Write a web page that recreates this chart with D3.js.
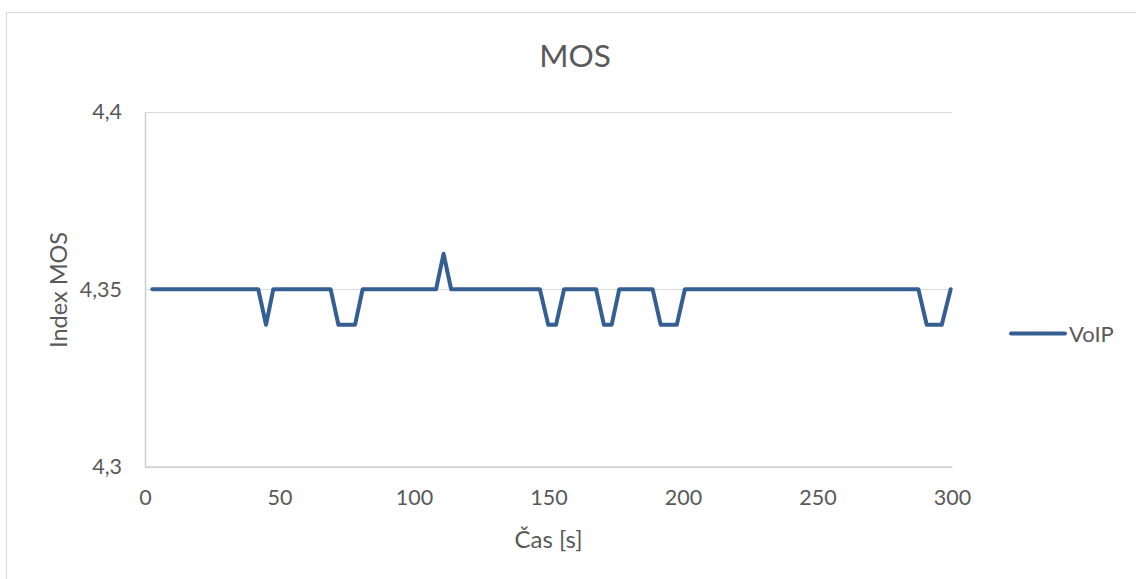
<!DOCTYPE html>
<html>
<head>
<meta charset="utf-8">
<script src="https://cdn.jsdelivr.net/npm/d3@7"></script>
<style>
  body { margin: 0; background: #fff; }
  svg text { font-family: Lato, "Open Sans", sans-serif; fill: #595959; }
</style>
</head>
<body>
<svg id="chart" width="1136" height="579"></svg>
<script>
// MOS samples of the VoIP call over time (only where the value changes)
const timeSec = [2.7, 42.1, 45.0, 47.7, 69.0, 71.9, 78.1, 80.9, 108.2, 111.0, 113.8,
                 146.8, 149.9, 152.8, 155.8, 167.7, 170.6, 173.5, 176.3, 188.7, 191.7,
                 197.7, 200.7, 287.5, 290.6, 296.2, 299.5];
const mosVoip = [4.35, 4.35, 4.34, 4.35, 4.35, 4.34, 4.34, 4.35, 4.35, 4.36, 4.35,
                 4.35, 4.34, 4.34, 4.35, 4.35, 4.34, 4.34, 4.35, 4.35, 4.34,
                 4.34, 4.35, 4.35, 4.34, 4.34, 4.35];
const xTicks = [0, 50, 100, 150, 200, 250, 300];
const yTicks = [4.3, 4.35, 4.4];
const yTickLabels = ["4,3", "4,35", "4,4"];
const seriesName = "VoIP";

const svg = d3.select("#chart");
const plot = { left: 145, right: 952, top: 112, bottom: 466.5 };
const lineColor = "#355F93";

// chart frame
svg.append("rect")
  .attr("x", 6.5).attr("y", 12.5)
  .attr("width", 1160).attr("height", 600)
  .attr("fill", "none").attr("stroke", "#d9d9d9").attr("stroke-width", 1);

const x = d3.scaleLinear().domain([0, 300]).range([plot.left, plot.right]);
const y = d3.scaleLinear().domain([4.3, 4.4]).range([plot.bottom, plot.top]);

// horizontal gridlines
svg.append("g")
  .selectAll("line")
  .data(yTicks)
  .join("line")
  .attr("x1", plot.left).attr("x2", plot.right)
  .attr("y1", d => Math.round(y(d)) + 0.5).attr("y2", d => Math.round(y(d)) + 0.5)
  .attr("stroke", "#d9d9d9").attr("stroke-width", 1);

// y axis
const yAxis = svg.append("g")
  .attr("transform", `translate(${plot.left},0)`)
  .call(d3.axisLeft(y).tickValues(yTicks)
    .tickFormat((d, i) => yTickLabels[i]).tickSize(0).tickPadding(23));
yAxis.select(".domain").attr("stroke", "#cfcfcf").attr("stroke-width", 1.5);
yAxis.selectAll("text").attr("font-size", 21.5).attr("fill", "#595959")
  .style("font-family", "Lato, sans-serif");

// x axis
const xAxis = svg.append("g")
  .attr("transform", `translate(0,${plot.bottom})`)
  .call(d3.axisBottom(x).tickValues(xTicks).tickSize(0).tickPadding(23));
xAxis.select(".domain").attr("stroke", "#cfcfcf").attr("stroke-width", 1.5);
xAxis.selectAll("text").attr("font-size", 21.5).attr("fill", "#595959")
  .style("font-family", "Lato, sans-serif");

// series line
const data = timeSec.map((t, i) => ({ t, v: mosVoip[i] }));
svg.append("path")
  .datum(data)
  .attr("fill", "none")
  .attr("stroke", lineColor)
  .attr("stroke-width", 4)
  .attr("stroke-linejoin", "round")
  .attr("stroke-linecap", "round")
  .attr("d", d3.line().x(d => x(d.t)).y(d => y(d.v)));

// title
svg.append("text")
  .attr("x", 575).attr("y", 67)
  .attr("text-anchor", "middle")
  .attr("font-size", 31.5)
  .text("MOS");

// axis titles
svg.append("text")
  .attr("x", (plot.left + plot.right) / 2).attr("y", 548)
  .attr("text-anchor", "middle")
  .attr("font-size", 24)
  .text("Čas [s]");

svg.append("text")
  .attr("transform", `translate(67,290) rotate(-90)`)
  .attr("text-anchor", "middle")
  .attr("font-size", 23.5)
  .text("Index MOS");

// legend
const legend = svg.append("g");
legend.append("line")
  .attr("x1", 1011).attr("x2", 1065)
  .attr("y1", 333.5).attr("y2", 333.5)
  .attr("stroke", lineColor).attr("stroke-width", 4)
  .attr("stroke-linecap", "round");
legend.append("text")
  .attr("x", 1069).attr("y", 341.5)
  .attr("font-size", 22)
  .text(seriesName);
</script>
</body>
</html>
